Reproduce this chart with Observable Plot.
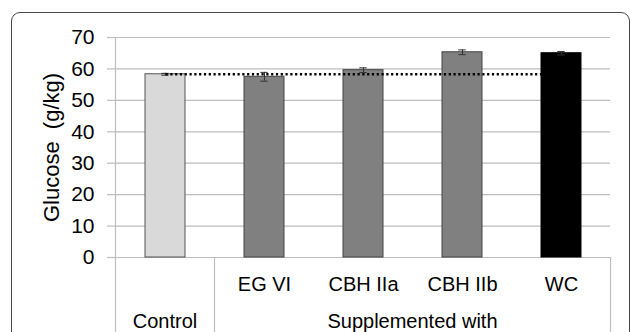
<!DOCTYPE html>
<html>
<head>
<meta charset="utf-8">
<script src="https://cdn.jsdelivr.net/npm/d3@7"></script>
<script src="https://cdn.jsdelivr.net/npm/@observablehq/plot@0.6"></script>
<style>
  html, body { margin: 0; padding: 0; background: #fff; }
  #wrap { position: relative; width: 630px; height: 332px; overflow: hidden; background: #fff; }
  #frame { position: absolute; left: 11px; top: 12px; width: 619px; height: 400px;
           border: 1.5px solid #4a4a4a; border-radius: 9px; pointer-events: none; box-sizing: border-box; }
  #chart svg { display: block; }
</style>
</head>
<body>
<div id="wrap"><div id="chart"></div><div id="frame"></div></div>
<script>
// ---- data ----
const categories = ["Control", "EG VI", "CBH IIa", "CBH IIb", "WC"];
const glucose = [58.3, 57.5, 59.6, 65.3, 65.0];
const errors = [0.3, 1.4, 0.75, 0.75, 0.55];
const yTicks = [0, 10, 20, 30, 40, 50, 60, 70];
const supplementedLabel = "Supplemented with";
const yLabel = "Glucose  (g/kg)";

const rows = categories.map((c, i) => ({cat: c, value: glucose[i], err: errors[i]}));
const fillFor = c => c === "Control" ? "#d9d9d9" : c === "WC" ? "#000000" : "#808080";
const strokeFor = c => c === "Control" ? "#555555" : c === "WC" ? "#000000" : "#444444";
const controlValue = glucose[categories.indexOf("Control")];

// table lines and second-row labels below the axis, placed via the scales
function table(index, scales, values, dims) {
  const x = scales.x, y = scales.y;
  const bw = typeof x.bandwidth === "function" ? x.bandwidth() : x.bandwidth;
  const step = x(categories[1]) - x(categories[0]);
  const pad = (step - bw) / 2;
  const y0 = y(0), yTop = y(70), H = dims.height;
  const g = d3.create("svg:g");
  const first = categories[0], last = categories[categories.length - 1];
  const lines = [
    [x(first) - pad, yTop, H],
    [x(first) + bw + pad, y0, H],
    [x(last) + bw + pad, y0, H]
  ];
  for (const [lx, a, b] of lines) {
    g.append("line").attr("x1", lx).attr("x2", lx).attr("y1", a).attr("y2", b)
      .attr("stroke", "#bdbdbd").attr("stroke-width", 1.2);
  }
  const row2 = [
    {text: first, cx: x(first) + bw / 2},
    {text: supplementedLabel, cx: (x(categories[1]) + x(last) + bw) / 2}
  ];
  for (const r of row2) {
    g.append("text").attr("x", r.cx).attr("y", y0 + 70.5)
      .attr("text-anchor", "middle").attr("font-size", 20)
      .attr("font-family", "Liberation Sans, Arial, sans-serif").attr("fill", "#000")
      .text(r.text);
  }
  return g.node();
}

const chart = Plot.plot({
  width: 630,
  height: 332,
  marginLeft: 115,
  marginRight: 20,
  marginTop: 37,
  marginBottom: 75,
  style: {fontFamily: "Liberation Sans, Arial, sans-serif", background: "none", overflow: "visible"},
  x: {domain: categories, paddingInner: 0.6, paddingOuter: 0.3, axis: null},
  y: {domain: [0, 70], axis: null},
  marks: [
    Plot.gridY(yTicks, {stroke: "#bdbdbd", strokeOpacity: 1, strokeWidth: 1.2}),
    Plot.barY(rows, {x: "cat", y: "value", fill: d => fillFor(d.cat), stroke: d => strokeFor(d.cat), strokeWidth: 1}),
    Plot.ruleX(rows, {x: "cat", y1: d => d.value - d.err, y2: d => d.value + d.err, stroke: "#333", strokeWidth: 1}),
    Plot.tickY(rows, {x: "cat", y: d => d.value - d.err, stroke: "#333", insetLeft: 16.3, insetRight: 16.3}),
    Plot.tickY(rows, {x: "cat", y: d => d.value + d.err, stroke: "#333", insetLeft: 16.3, insetRight: 16.3}),
    Plot.lineY([{cat: categories[0], v: controlValue}, {cat: categories[categories.length - 1], v: controlValue}],
      {x: "cat", y: "v", stroke: "#000", strokeWidth: 2.6, strokeDasharray: "2.2,2.6", strokeLinecap: "butt"}),
    Plot.axisY({ticks: yTicks, tickSize: 8, tickPadding: 13, fontSize: 21, stroke: "#bdbdbd", strokeWidth: 1.2, fill: "#000", label: null, tickFormat: d => String(d)}),
    Plot.text([yLabel], {frameAnchor: "left", textAnchor: "middle", dx: -64, rotate: -90, fontSize: 22, fill: "#000"}),
    Plot.text(categories.slice(1), {x: d => d, frameAnchor: "bottom", lineAnchor: "middle", dy: 26.6, fontSize: 20, fill: "#000"}),
    table
  ]
});
document.getElementById("chart").appendChild(chart);
</script>
</body>
</html>
